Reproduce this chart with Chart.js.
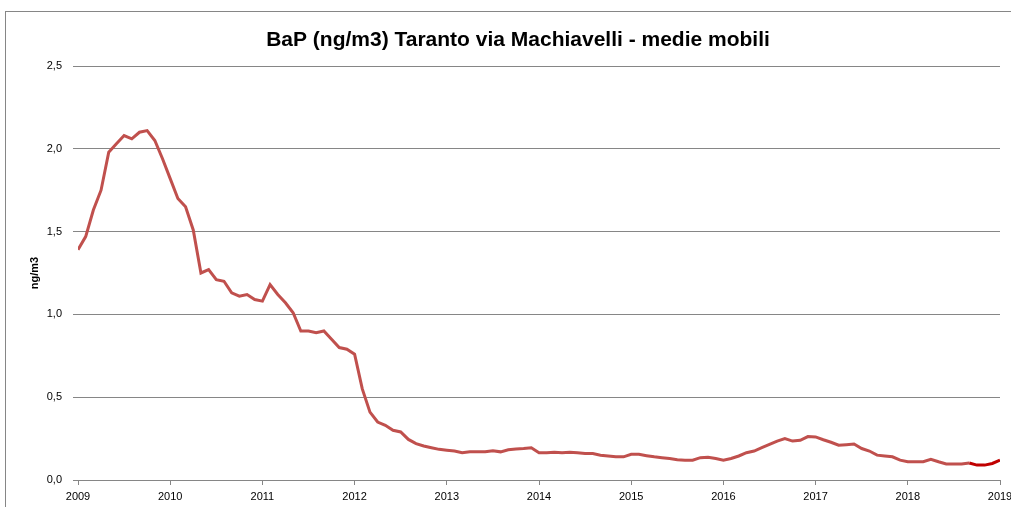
<!DOCTYPE html>
<html>
<head>
<meta charset="utf-8">
<script src="https://cdn.jsdelivr.net/npm/chart.js@4"></script>
<style>
  html, body { margin: 0; padding: 0; background: #fff; }
  #wrap { width: 1011px; height: 507px; }
</style>
</head>
<body>
<div id="wrap"><canvas id="bap"></canvas></div>
<script>
// monthly moving averages, Jan 2009 .. Jan 2019
const startYear = 2009;
const bapMain = [
  1.39, 1.47, 1.63, 1.75, 1.98, 2.03, 2.08, 2.06, 2.10, 2.11, 2.05, 1.94,
  1.82, 1.70, 1.65, 1.51, 1.25, 1.27, 1.21, 1.20, 1.13, 1.11, 1.12, 1.09,
  1.08, 1.18, 1.12, 1.07, 1.01, 0.90, 0.90, 0.89, 0.90, 0.85, 0.80, 0.79,
  0.76, 0.55, 0.41, 0.35, 0.33, 0.30, 0.29, 0.245, 0.22, 0.205, 0.195, 0.185,
  0.18, 0.175, 0.165, 0.17, 0.17, 0.17, 0.177, 0.17, 0.183, 0.187, 0.19, 0.195,
  0.165, 0.165, 0.167, 0.165, 0.168, 0.165, 0.16, 0.16, 0.15, 0.145, 0.14, 0.14,
  0.155, 0.155, 0.147, 0.14, 0.135, 0.13, 0.122, 0.12, 0.12, 0.135, 0.137, 0.13,
  0.12, 0.13, 0.145, 0.165, 0.175, 0.195, 0.215, 0.235, 0.25, 0.235, 0.24, 0.262,
  0.26, 0.243, 0.228, 0.21, 0.213, 0.217, 0.19, 0.175, 0.15, 0.145, 0.14, 0.12,
  0.11, 0.11, 0.11, 0.125, 0.11, 0.097, 0.097, 0.097, 0.103
];
// last months, drawn in a brighter red
const bapLast = [0.103, 0.09, 0.09, 0.10, 0.12];
const yTicks = [0, 0.5, 1.0, 1.5, 2.0, 2.5];
const xYears = [2009, 2010, 2011, 2012, 2013, 2014, 2015, 2016, 2017, 2018, 2019];
const chartTitle = 'BaP (ng/m3) Taranto via Machiavelli - medie mobili';

const toPoints = (arr, offset) => arr.map((v, i) => ({ x: startYear + (i + offset) / 12, y: v }));

const font = 'Liberation Sans, Arial, sans-serif';

// outer frame + title (title is off-centre in the original, so drawn by hand)
const frame = {
  id: 'frame',
  beforeDraw(chart) {
    const c = chart.ctx;
    c.save();
    c.strokeStyle = '#868686';
    c.lineWidth = 1;
    c.strokeRect(5.5, 11.5, 1100, 600);
    c.fillStyle = '#000';
    c.font = 'bold 21px ' + font;
    c.textAlign = 'center';
    c.textBaseline = 'alphabetic';
    c.fillText(chartTitle, 518, 46);
    c.restore();
  }
};

new Chart(document.getElementById('bap'), {
  type: 'line',
  data: {
    datasets: [{
      data: toPoints(bapMain, 0),
      borderColor: '#c0504d',
      borderWidth: 3,
      pointRadius: 0,
      tension: 0
    }, {
      data: toPoints(bapLast, bapMain.length - 1),
      borderColor: '#c00000',
      borderWidth: 3,
      pointRadius: 0,
      tension: 0
    }]
  },
  options: {
    responsive: true,
    maintainAspectRatio: false,
    animation: false,
    layout: { padding: { left: 5, right: 11, top: 66, bottom: 0 } },
    plugins: {
      legend: { display: false },
      tooltip: { enabled: false },
      title: { display: false }
    },
    scales: {
      x: {
        type: 'linear',
        min: xYears[0],
        max: xYears[xYears.length - 1],
        afterBuildTicks: s => { s.ticks = xYears.map(v => ({ value: v })); },
        afterFit: s => { s.height = 27; s.paddingLeft = 0; s.paddingRight = 0; },
        ticks: {
          color: '#000',
          font: { family: font, size: 11 },
          padding: 5,
          maxRotation: 0,
          callback: v => String(v)
        },
        grid: { drawOnChartArea: false, drawTicks: true, tickLength: 5, color: '#868686' },
        border: { display: true, color: '#868686' }
      },
      y: {
        min: 0,
        max: 2.5,
        afterBuildTicks: s => { s.ticks = yTicks.map(v => ({ value: v })); },
        afterFit: s => { s.width = 73; },
        ticks: {
          color: '#000',
          font: { family: font, size: 11 },
          padding: 11,
          callback: v => v.toFixed(1).replace('.', ',')
        },
        grid: { color: '#868686', tickLength: 5 },
        border: { display: false },
        title: {
          display: true,
          text: 'ng/m3',
          color: '#000',
          font: { family: font, size: 11, weight: 'bold' },
          padding: { top: 23, bottom: 0 }
        }
      }
    }
  },
  plugins: [frame]
});
</script>
</body>
</html>
